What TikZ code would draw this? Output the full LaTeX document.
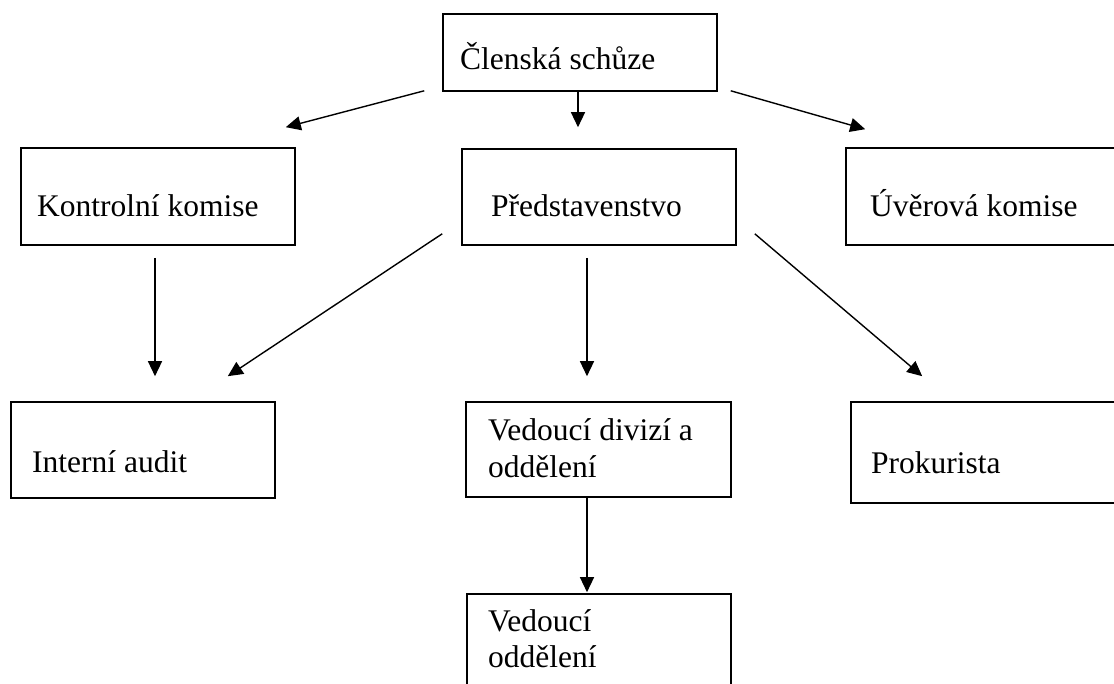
\documentclass[tikz,border=0pt]{standalone}
\usepackage{fontspec}
\setmainfont{Liberation Serif}
\usetikzlibrary{arrows.meta}
\begin{document}
\begin{tikzpicture}[x=1pt,y=-1pt,
  box/.style={draw=black,line width=1.6pt,rectangle,inner sep=0pt},
  lbl/.style={anchor=base west,inner sep=0pt,font=\fontsize{31.5}{36}\selectfont,align=left},
  arr/.style={line width=1.4pt,-{Triangle[length=15pt,width=14pt]}}]
\useasboundingbox[fill=white] (0,0) rectangle (1114,684);
% boxes
\node[box,minimum width=274pt,minimum height=77pt] (clen) at (580,52.5) {};
\node[box,minimum width=274pt,minimum height=97pt] (kontrol) at (158,196.5) {};
\node[box,minimum width=274pt,minimum height=96pt] (pred) at (599,197) {};
\node[box,minimum width=274pt,minimum height=97pt] (uver) at (983,196.5) {};
\node[box,minimum width=264pt,minimum height=96pt] (audit) at (143,450) {};
\node[box,minimum width=265pt,minimum height=95pt] (vedd) at (598.5,449.5) {};
\node[box,minimum width=274pt,minimum height=101pt] (prok) at (988,452.5) {};
\node[box,minimum width=264pt,minimum height=96pt] (vedo) at (599,642) {};
% texts
\node[lbl] (tclen) at (460,70) {Členská schůze};
\node[lbl] (tkontrol) at (37,217) {Kontrolní komise};
\node[lbl] (tpred) at (491,217) {Představenstvo};
\node[lbl] (tuver) at (870,217) {Úvěrová komise};
\node[lbl] (taudit) at (32,472) {Interní audit};
\node[lbl] (tvedd) at (488,477) {Vedoucí divizí a\\oddělení};
\node[lbl] (tprok) at (871,473) {Prokurista};
\node[lbl] (tvedo) at (488,667) {Vedoucí\\oddělení};
% connectors
\draw[arr] ([shift={(-18,-1)}]clen.south west) -- ([shift={(-10,-20)}]kontrol.north east);
\draw[arr] ([shift={(-2,0)}]clen.south) -- ([shift={(-21,-21)}]pred.north);
\draw[arr] ([shift={(13,-1)}]clen.south east) -- ([shift={(20,-18)}]uver.north west);
\draw[arr] ([shift={(-3,12)}]kontrol.south) -- ([shift={(12,-25)}]audit.north);
\draw[arr] ([shift={(-19,-12)}]pred.south west) -- ([shift={(-48,-25)}]audit.north east);
\draw[arr] ([shift={(-12,12)}]pred.south) -- ([shift={(-11.5,-25)}]vedd.north);
\draw[arr] ([shift={(18,-12)}]pred.south east) -- ([shift={(72,-25)}]prok.north west);
\draw[arr] ([shift={(-11.5,0)}]vedd.south) -- ([shift={(-12,-1)}]vedo.north);
\end{tikzpicture}
\end{document}
